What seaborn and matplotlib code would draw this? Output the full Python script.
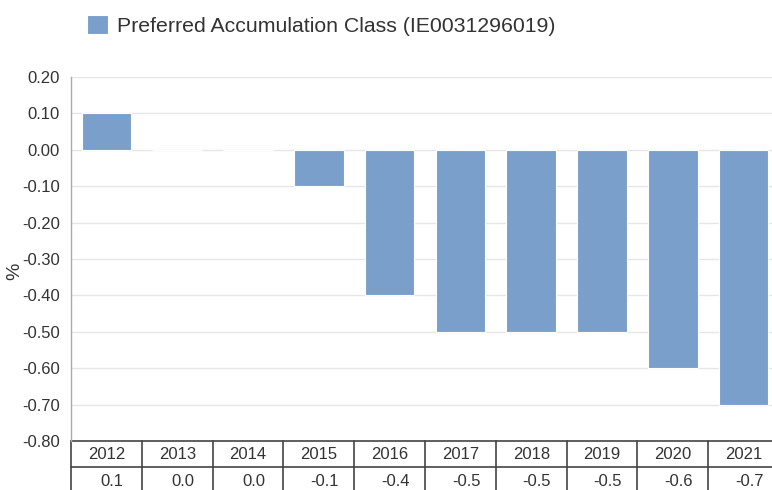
import matplotlib.pyplot as plt
import matplotlib.transforms as mtransforms
import pandas as pd
import seaborn as sns

years = ["2012", "2013", "2014", "2015", "2016", "2017", "2018", "2019", "2020", "2021"]
returns = [0.1, 0.0, 0.0, -0.1, -0.4, -0.5, -0.5, -0.5, -0.6, -0.7]
series_name = "Preferred Accumulation Class (IE0031296019)"

df = pd.DataFrame({"year": years, "ret": returns})

sns.set_style("white")
plt.rcParams["font.family"] = ["Liberation Sans", "DejaVu Sans"]
text_col = "#333333"
bar_col = "#7a9fcb"

fig = plt.figure(figsize=(7.72, 4.90), dpi=100)
ax = fig.add_axes([71 / 772, 49 / 490, 708 / 772, 364 / 490])

sns.barplot(data=df, x="year", y="ret", color=bar_col, width=0.7,
            edgecolor="white", linewidth=0.8, saturation=1, ax=ax,
            label=series_name, zorder=3)

ax.set_ylim(-0.8, 0.2)
ax.set_xlim(-0.5, len(years) - 0.5)
ax.set_yticks([-0.8, -0.7, -0.6, -0.5, -0.4, -0.3, -0.2, -0.1, 0.0, 0.1, 0.2])
ax.set_yticklabels(["%.2f" % v for v in ax.get_yticks()], fontsize=12, color=text_col)
ax.tick_params(axis="y", length=0, pad=8)
ax.set_xticks([])
ax.set_xlabel("")
ax.set_ylabel("%", fontsize=14, color=text_col)
ax.yaxis.set_label_coords(-48 / 708, 0.465)
ax.grid(axis="y", color="#e6e6e6", linewidth=1, zorder=0)
for s in ["top", "right", "bottom"]:
    ax.spines[s].set_visible(False)
ax.spines["left"].set_color("#aaaaaa")
ax.spines["left"].set_linewidth(1)

# table under the plot: years row and values row
trans = mtransforms.blended_transform_factory(ax.transData, ax.transAxes)
row_h = 26 / 364
line_kw = dict(color="#444444", linewidth=1.2, clip_on=False, transform=trans)
ax.plot([-0.5, len(years) - 0.5], [0, 0], **line_kw)
ax.plot([-0.5, len(years) - 0.5], [-row_h, -row_h], **line_kw)
for i in range(len(years) + 1):
    ax.plot([i - 0.5, i - 0.5], [0, -2.2 * row_h], **line_kw)
for i, (y, v) in enumerate(zip(years, returns)):
    ax.text(i, -0.5 * row_h, y, ha="center", va="center", fontsize=12,
            color=text_col, transform=trans)
    ax.text(i + 0.08, -1.55 * row_h, "%.1f" % v, ha="center", va="center",
            fontsize=12, color=text_col, transform=trans)

leg = ax.legend(loc="upper left", bbox_to_anchor=(72 / 772, 1.0), bbox_transform=fig.transFigure,
                frameon=False, fontsize=15.3, handlelength=1.0, handleheight=1.0,
                handletextpad=0.4, borderaxespad=0.3)
for t in leg.get_texts():
    t.set_color(text_col)

fig.savefig("out.png", dpi=100)
